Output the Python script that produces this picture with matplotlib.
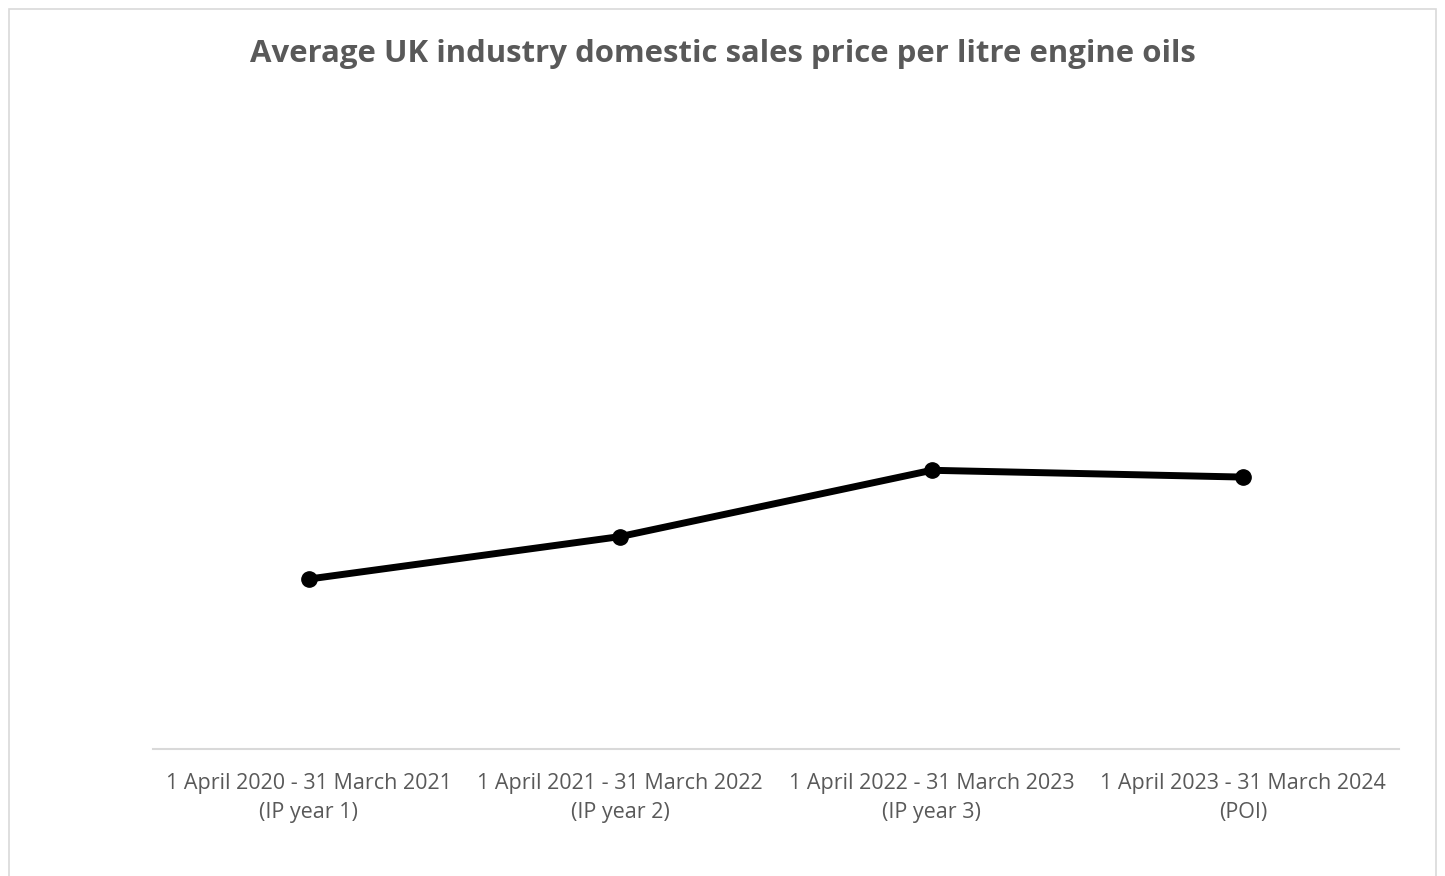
import matplotlib
matplotlib.use("Agg")
import matplotlib.pyplot as plt
from matplotlib.patches import Rectangle

# Average domestic sales price per litre (index, IP year 1 = 100)
periods = [
    "1 April 2020 - 31 March 2021\n(IP year 1)",
    "1 April 2021 - 31 March 2022\n(IP year 2)",
    "1 April 2022 - 31 March 2023\n(IP year 3)",
    "1 April 2023 - 31 March 2024\n(POI)",
]
price_index = [100, 125, 164, 160]
y_max = 376

W, H = 1445, 876
fig = plt.figure(figsize=(W / 100, H / 100), dpi=100)
fig.patch.set_facecolor("white")

# chart border
fig.add_artist(Rectangle((9 / W, -0.01), (1436 - 9) / W, 1 - 9 / H + 0.01,
                         transform=fig.transFigure, fill=False,
                         edgecolor="#d9d9d9", linewidth=1.2))

left, right = 153 / W, 1399 / W
bottom, top = 1 - 749 / H, 1 - 110 / H
ax = fig.add_axes([left, bottom, right - left, top - bottom])
x = list(range(len(periods)))
ax.plot(x, price_index, color="black", linewidth=5, marker="o",
        markersize=11, solid_capstyle="round", zorder=3)
ax.set_xlim(-0.5, len(periods) - 0.5)
ax.set_ylim(0, y_max)
ax.set_xticks(x)
ax.set_xticklabels(periods, fontsize=15.5, color="#595959", family="Open Sans",
                   linespacing=1.55)
ax.tick_params(axis="x", length=0, pad=17)
ax.set_yticks([])
for s in ["top", "right", "left"]:
    ax.spines[s].set_visible(False)
ax.spines["bottom"].set_color("#d9d9d9")
ax.spines["bottom"].set_linewidth(1.5)

fig.text(0.5, 1 - 54 / H, "Average UK industry domestic sales price per litre engine oils",
         ha="center", va="center", fontsize=22.4, fontweight="bold",
         color="#595959", family="Open Sans")

fig.savefig("out.png", dpi=100, facecolor="white")
